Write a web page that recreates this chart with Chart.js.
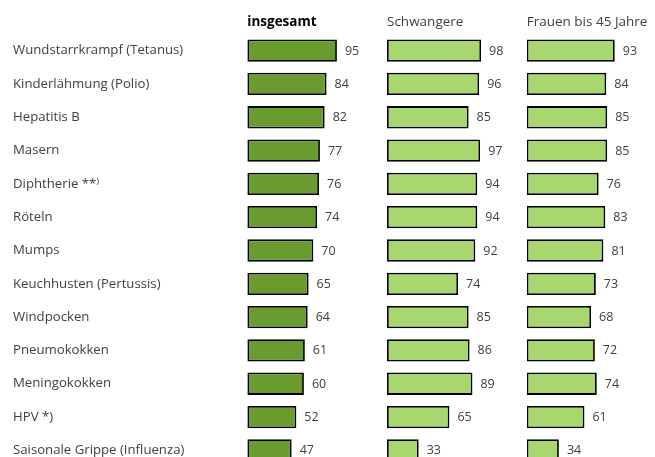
<!DOCTYPE html>
<html>
<head>
<meta charset="utf-8">
<script src="https://cdn.jsdelivr.net/npm/chart.js@4"></script>
<style>
  html, body { margin: 0; padding: 0; background: #fff; overflow: hidden; }
  #wrap { position: relative; width: 655px; height: 480px; }
</style>
</head>
<body>
<div id="wrap"><canvas id="c"></canvas></div>
<script>
const categories = [
  'Wundstarrkrampf (Tetanus)',
  'Kinderlähmung (Polio)',
  'Hepatitis B',
  'Masern',
  'Diphtherie **⁾',
  'Röteln',
  'Mumps',
  'Keuchhusten (Pertussis)',
  'Windpocken',
  'Pneumokokken',
  'Meningokokken',
  'HPV *)',
  'Saisonale Grippe (Influenza)'
];
const panelTitles = ['insgesamt', 'Schwangere', 'Frauen bis 45 Jahre'];
const insgesamt   = [95, 84, 82, 77, 76, 74, 70, 65, 64, 61, 60, 52, 47];
const schwangere  = [98, 96, 85, 97, 94, 94, 92, 74, 85, 86, 89, 65, 33];
const frauen45    = [93, 84, 85, 85, 76, 83, 81, 73, 68, 72, 74, 61, 34];

const FONT = "'Open Sans', sans-serif";
const TEXT = '#404040';

const valueLabels = {
  id: 'valueLabels',
  afterDatasetsDraw(chart) {
    const ctx = chart.ctx;
    ctx.save();
    ctx.font = '12.5px ' + FONT;
    ctx.fillStyle = TEXT;
    ctx.textAlign = 'left';
    ctx.textBaseline = 'middle';
    chart.data.datasets.forEach((ds, i) => {
      const meta = chart.getDatasetMeta(i);
      meta.data.forEach((el, j) => {
        ctx.fillText(String(ds.data[j]), el.x + 8, el.y + 0.5);
      });
    });
    ctx.restore();
  }
};

function panelAxis(title, max, widthWeight, order, bold) {
  return {
    type: 'linear',
    position: 'top',
    stack: 'panels',
    stackWeight: widthWeight,
    weight: order,
    min: 0,
    max: max,
    grid: { display: false },
    border: { display: false },
    ticks: { display: false },
    title: {
      display: true,
      text: title,
      align: 'start',
      color: bold ? '#000' : TEXT,
      font: { family: FONT, size: 13.5, weight: bold ? 'bold' : 'normal' },
      padding: { top: 14, bottom: 0 }
    },
    afterFit(scale) { scale.height = 34; }
  };
}

new Chart(document.getElementById('c'), {
  type: 'bar',
  data: {
    labels: categories,
    datasets: [
      { label: panelTitles[0], data: insgesamt, xAxisID: 'x1', backgroundColor: '#699b2f' },
      { label: panelTitles[1], data: schwangere, xAxisID: 'x2', backgroundColor: '#a8d66f' },
      { label: panelTitles[2], data: frauen45, xAxisID: 'x3', backgroundColor: '#a8d66f' }
    ]
  },
  options: {
    indexAxis: 'y',
    responsive: true,
    maintainAspectRatio: false,
    animation: false,
    layout: { padding: { left: 13, right: 0, top: 0, bottom: 13 } },
    datasets: {
      bar: {
        grouped: false,
        categoryPercentage: 1,
        barPercentage: 0.67,
        borderColor: '#000',
        borderWidth: 1.8,
        borderSkipped: false
      }
    },
    plugins: {
      legend: { display: false },
      tooltip: { enabled: false }
    },
    scales: {
      y: {
        type: 'category',
        position: 'left',
        grid: { display: false },
        border: { display: false },
        ticks: {
          crossAlign: 'far',
          color: TEXT,
          font: { family: FONT, size: 13.2 },
          padding: 0
        },
        afterFit(scale) { scale.width = 234.3; }
      },
      x1: panelAxis(panelTitles[0], 148.1, 139.7, 3, true),
      x2: panelAxis(panelTitles[1], 145.5, 139.7, 2, false),
      x3: panelAxis(panelTitles[2], 135.5, 128.3, 1, false)
    }
  },
  plugins: [valueLabels]
});
</script>
</body>
</html>
